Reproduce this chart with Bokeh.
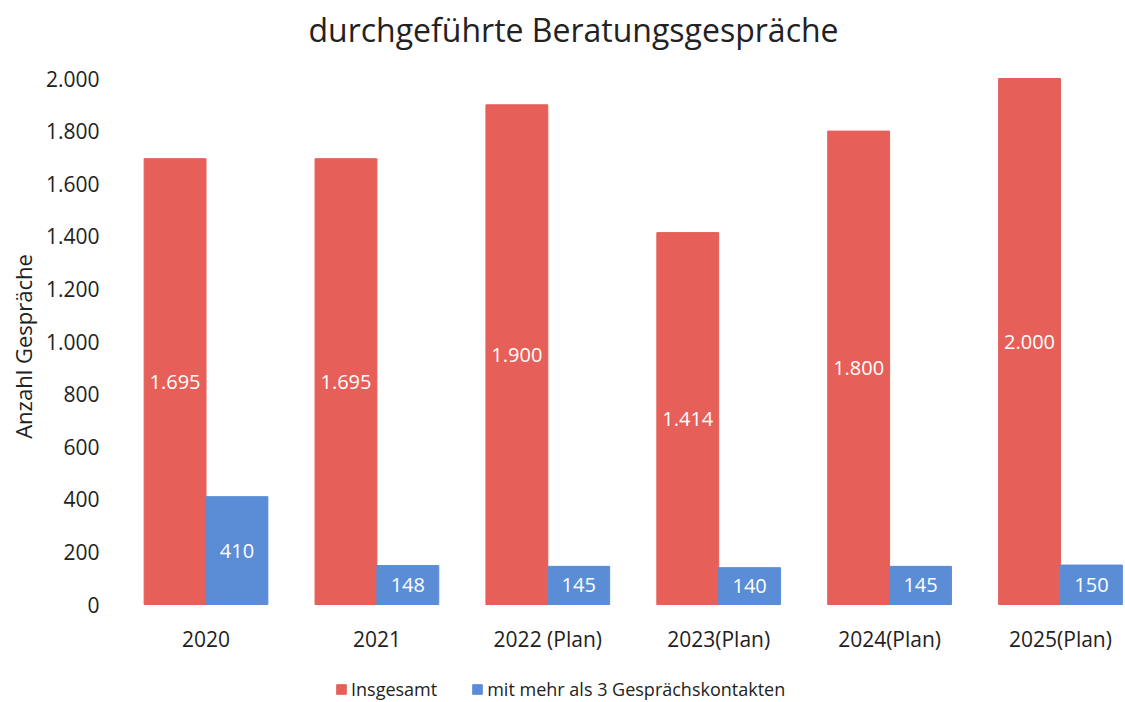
import math
from bokeh.plotting import figure
from bokeh.models import (ColumnDataSource, Range1d, FixedTicker, LabelSet, Label,
                          Legend, LegendItem)
from bokeh.core.properties import value
from bokeh.embed import file_html
from bokeh.resources import INLINE

title_text = "durchgeführte Beratungsgespräche"
y_title = "Anzahl Gespräche"
categories = ["2020", "2021", "2022 (Plan)", "2023(Plan)", "2024(Plan)", "2025(Plan)"]
insgesamt = [1695, 1695, 1900, 1414, 1800, 2000]
mehr_als_3 = [410, 148, 145, 140, 145, 150]
series_names = ["Insgesamt", "mit mehr als 3 Gesprächskontakten"]
y_ticks = [0, 200, 400, 600, 800, 1000, 1200, 1400, 1600, 1800, 2000]

FONT = "Open Sans"
RED = "#E65F59"
BLUE = "#5A8DD6"
TXT = "#222222"

W, H = 1125, 702
# pixel layout of the plotting area (frame covers the whole canvas)
PX_CAT0, PX_CAT_STEP = 205.5, 170.9      # x pixel of first category, spacing
PX_Y0, PX_Y2000 = 604.0, 78.0           # y pixel (from top) of value 0 and 2000
y_per_px = 2000.0 / (PX_Y0 - PX_Y2000)

def dx(px):
    return (px - PX_CAT0) / PX_CAT_STEP

def dy(py):
    return (PX_Y0 - py) * y_per_px

def de(v):
    return f"{v:,}".replace(",", ".")

xs = list(range(len(categories)))
off = 0.181
w = 0.362

src_r = ColumnDataSource(dict(x=[x - off for x in xs], top=insgesamt,
                              mid=[v / 2 for v in insgesamt],
                              lab=[de(v) for v in insgesamt]))
src_b = ColumnDataSource(dict(x=[x + off for x in xs], top=mehr_als_3,
                              mid=[v / 2 for v in mehr_als_3],
                              lab=[de(v) for v in mehr_als_3]))

p = figure(width=W, height=H, output_backend="svg", toolbar_location=None,
           x_range=Range1d(dx(0), dx(W)), y_range=Range1d(dy(H), dy(0)),
           min_border=0, outline_line_color=None)

r1 = p.vbar(x="x", top="top", width=w, source=src_r, fill_color=RED, line_color=RED)
r2 = p.vbar(x="x", top="top", width=w, source=src_b, fill_color=BLUE, line_color=BLUE)

for s in (src_r, src_b):
    p.add_layout(LabelSet(x="x", y="mid", text="lab", source=s, text_color="white",
                          text_align="center", text_baseline="middle",
                          text_font=value(FONT), text_font_size="20px"))

p.xgrid.grid_line_color = None
p.ygrid.grid_line_color = None

p.xaxis.fixed_location = 0
p.xaxis.ticker = FixedTicker(ticks=xs)
p.xaxis.major_label_overrides = {i: c for i, c in enumerate(categories)}
p.yaxis.fixed_location = -0.5
p.yaxis.ticker = FixedTicker(ticks=y_ticks)
p.yaxis.major_label_overrides = {t: de(t) for t in y_ticks}

for ax in (p.xaxis[0], p.yaxis[0]):
    ax.axis_line_color = None
    ax.major_tick_line_color = None
    ax.minor_tick_line_color = None
    ax.major_label_text_font = FONT
    ax.major_label_text_font_size = "21px"
    ax.major_label_text_color = TXT

p.xaxis.major_label_standoff = 14
p.yaxis.major_label_standoff = 15

p.add_layout(Label(x=dx(573), y=dy(29), text=title_text, text_align="center",
                   text_baseline="middle", text_font=FONT, text_font_size="32px",
                   text_color=TXT))
p.add_layout(Label(x=dx(22), y=dy(346), text=y_title, text_align="center",
                   text_baseline="middle", angle=math.pi / 2, text_font=FONT,
                   text_font_size="22px", text_color=TXT))

legend = Legend(items=[LegendItem(label=series_names[0], renderers=[r1]),
                       LegendItem(label=series_names[1], renderers=[r2])],
                orientation="horizontal", location=(335, 1),
                label_text_font=FONT, label_text_font_size="18px",
                label_text_color=TXT, glyph_width=12, glyph_height=12,
                spacing=34, label_standoff=4, border_line_color=None,
                background_fill_alpha=0, padding=0, margin=0)
p.add_layout(legend, "center")

open("out.html", "w").write(file_html(p, INLINE))
